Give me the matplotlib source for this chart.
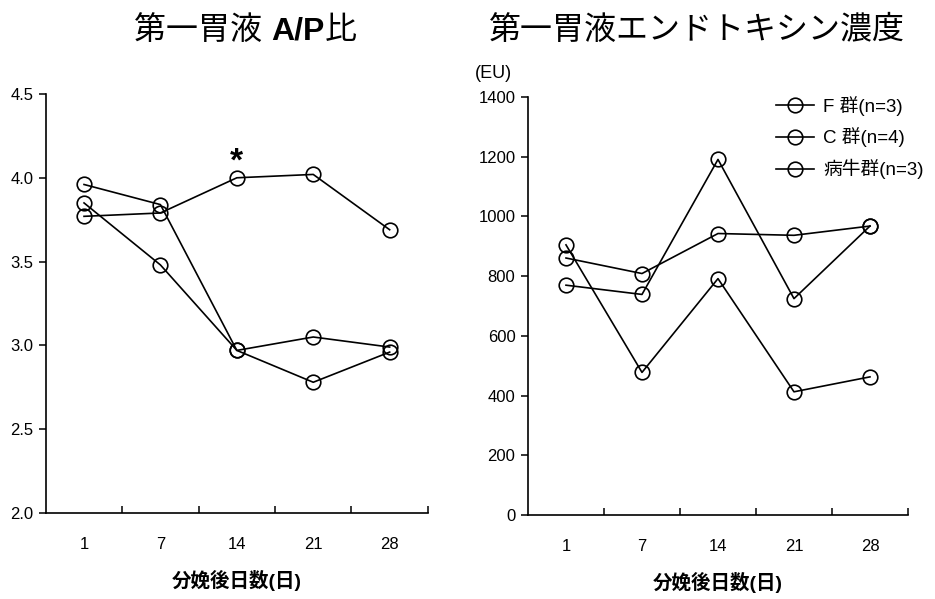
import matplotlib
matplotlib.use("Agg")
import matplotlib.pyplot as plt
from matplotlib.ticker import FixedLocator

plt.rcParams['font.family'] = ['Liberation Sans', 'Noto Sans CJK JP']

# data
days = ['1', '7', '14', '21', '28']
group_names = ['F 群(n=3)', 'C 群(n=4)', '病牛群(n=3)']

ap_f = [3.96, 3.84, 2.97, 3.05, 2.99]
ap_c = [3.85, 3.48, 2.97, 2.78, 2.96]
ap_sick = [3.77, 3.79, 4.00, 4.02, 3.69]

eu_f = [861, 809, 943, 937, 968]
eu_c = [770, 739, 1191, 725, 968]
eu_sick = [905, 478, 792, 413, 463]

ap_series = [ap_f, ap_c, ap_sick]
eu_series = [eu_f, eu_c, eu_sick]

fig = plt.figure(figsize=(9.35, 5.99), dpi=100)
ax1 = fig.add_axes([0.049, 0.1436, 0.4086, 0.6995])
ax2 = fig.add_axes([0.5647, 0.140, 0.4064, 0.698])

style = dict(color='black', linewidth=1.2, marker='o', markersize=10.5,
             markerfacecolor='none', markeredgecolor='black', markeredgewidth=1.2)

x = list(range(len(days)))
for vals in ap_series:
    ax1.plot(x, vals, **style)
for vals, name in zip(eu_series, group_names):
    ax2.plot(x, vals, label=name, **style)

# significance mark on A/P ratio, day 14
ax1.annotate('*', xy=(2, ap_sick[2]), xytext=(0, 0), textcoords='offset points',
             ha='center', va='bottom', fontsize=24, fontweight='bold')

for ax in (ax1, ax2):
    ax.set_xlim(-0.5, 4.5)
    ax.set_xticks(x)
    ax.set_xticklabels(days)
    ax.xaxis.set_minor_locator(FixedLocator([0.5, 1.5, 2.5, 3.5, 4.5]))
    ax.tick_params(axis='x', which='major', length=0, pad=17, labelsize=12)
    ax.tick_params(axis='x', which='minor', direction='in', length=5, width=1.1)
    ax.tick_params(axis='y', direction='out', length=5, width=1.1, labelsize=12, pad=4)
    ax.spines['top'].set_visible(False)
    ax.spines['right'].set_visible(False)
    for side in ('left', 'bottom'):
        ax.spines[side].set_linewidth(1.2)
    ax.set_xlabel('分娩後日数(日)', fontsize=14, fontweight='bold', labelpad=13)

ax1.set_ylim(2.0, 4.5)
ax1.set_yticks([2.0, 2.5, 3.0, 3.5, 4.0, 4.5])
ax1.set_yticklabels(['2.0', '2.5', '3.0', '3.5', '4.0', '4.5'])

ax2.set_ylim(0, 1400)
ax2.set_yticks([0, 200, 400, 600, 800, 1000, 1200, 1400])

ax2.text(-0.092, 1.057, '(EU)', transform=ax2.transAxes, ha='center', va='center',
         fontsize=13)

leg = ax2.legend(loc='upper right', bbox_to_anchor=(1.085, 1.043), frameon=False,
                 fontsize=13.5, handlelength=2.0, handletextpad=0.5, labelspacing=0.62)

# left title: "A/P" is set in bold, so build it from pieces
renderer = fig.canvas.get_renderer()
pieces = [('第一胃液 ', 'normal'), ('A/P', 'bold'), ('比', 'normal')]
x_px = 134
y_fig = 0.948
for txt, weight in pieces:
    t = fig.text(x_px / 935, y_fig, txt, ha='left', va='center', fontsize=23,
                 fontweight=weight)
    x_px += t.get_window_extent(renderer).width

fig.text(0.745, 0.948, '第一胃液エンドトキシン濃度', ha='center', va='center', fontsize=23)

fig.savefig('out.png', dpi=100, facecolor='white')
